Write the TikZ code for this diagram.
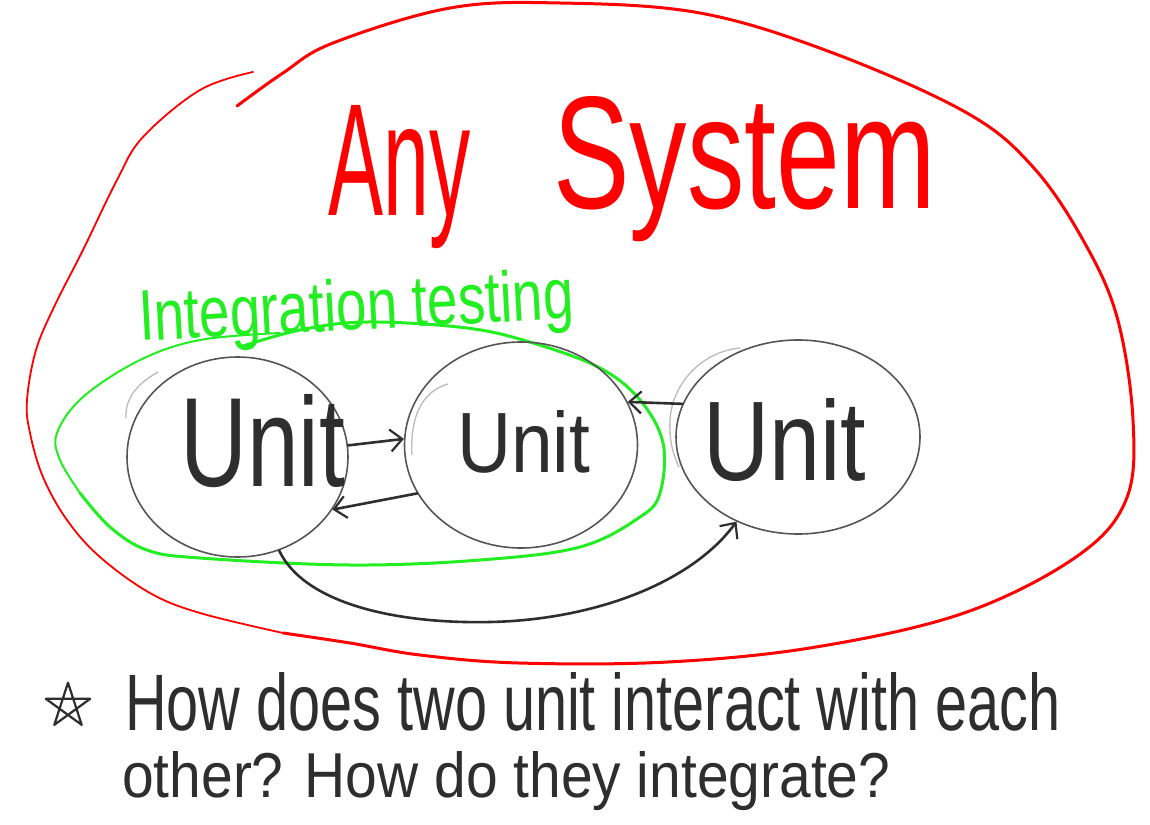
\documentclass[tikz,border=0pt]{standalone}
\usepackage{fontspec}
\setmainfont{Liberation Sans}
\usepackage{graphicx}
\usetikzlibrary{shapes.geometric,arrows.meta}
\definecolor{sysred}{HTML}{FF0000}
\definecolor{intgreen}{HTML}{22EE22}
\definecolor{pen}{HTML}{2E2E2E}
\definecolor{unitgray}{HTML}{555555}
\definecolor{ghost}{HTML}{BBBBBB}
\begin{document}
\begin{tikzpicture}[x=1pt,y=-1pt,
  unit/.style={ellipse, draw=unitgray, line width=1.6pt, inner sep=0pt},
  ghostarc/.style={draw=ghost, line width=1.3pt},
  flow/.style={draw=pen, line width=2.6pt, line cap=round,
    -{Straight Barb[length=12pt,width=22pt,line width=2.2pt]}},
  hand/.style={inner sep=0pt, anchor=base west},
]
\useasboundingbox (0,0) rectangle (1150,824);
\fill[white] (0,0) rectangle (1150,824);

% red system boundary
\draw[sysred, line width=3pt, line cap=round] plot[smooth, tension=0.6] coordinates {(237,106) (283,73) (333,43) (450,8) (560,3) (700,13) (833,53) (967,113) (1033,167) (1083,240) (1117,317) (1133,420) (1126,500) (1076,557) (964,613) (816,647) (668,662) (519,663) (420,655) (350,643) (283,633)};
\draw[sysred, line width=1.8pt, line cap=round] plot[smooth, tension=0.6] coordinates {(283,633) (200,613) (150,593) (100,557) (67,520) (43,477) (30,433) (27,400) (36,350) (55,305) (83,250) (117,180) (143,137) (200,90) (253,72)};

% title
\node[hand, text=sysred] (any) at (328,215) {\resizebox{142pt}{110pt}{Any}};
\node[hand, text=sysred] (system) at (553,208) {\resizebox{382pt}{112pt}{System}};

% green integration boundary
\draw[intgreen, line width=3pt, line cap=round] plot[smooth, tension=0.6] coordinates {(240,347) (300,330) (367,322) (467,328) (533,343) (600,368) (640,400) (663,443) (660,493) (640,517) (580,547) (480,560) (350,565) (200,558) (147,550) (110,527) (80,493)};
\draw[intgreen, line width=2pt, line cap=round] plot[smooth, tension=0.6] coordinates {(80,493) (60,460) (57,433) (83,397) (140,360) (200,340) (280,333)};
\node[hand, text=intgreen, rotate=3] (integ) at (140,341) {\resizebox{435pt}{52pt}{Integration testing}};

% units
\node[unit, minimum width=221pt, minimum height=200pt] (u1) at (237.5,457) {};
\node[unit, minimum width=233pt, minimum height=206pt] (u2) at (521,445) {};
\node[unit, minimum width=244pt, minimum height=194pt] (u3) at (798,437) {};
\draw[ghostarc] (158,372) .. controls (135,385) and (125,400) .. (126,418);
\draw[ghostarc] (448,384) .. controls (420,392) and (410,420) .. (412,455);
\draw[ghostarc] (740,348) .. controls (700,352) and (672,385) .. (670,420) .. controls (669,440) and (673,455) .. (679,467);

\node[hand, text=pen] (t1) at (180,486) {\resizebox{165pt}{92pt}{Unit}};
\node[hand, text=pen] (t2) at (457,472) {\resizebox{133pt}{62pt}{Unit}};
\node[hand, text=pen] (t3) at (703,480) {\resizebox{163pt}{82pt}{Unit}};

% connectors
\draw[flow] (u1.6) -- (u2.177);
\draw[flow] (u2.205) -- (u1.-29);
\draw[flow] (u3.164) -- (u2.22);
\draw[flow] (u1.-66) .. controls (305,605) and (400,624) .. (490,622) .. controls (590,620) and (690,585) .. (u3.234);

% bottom note
\node[star, star points=5, minimum size=46pt, inner sep=0pt] (star) at (68,706) {};
\draw[pen, line width=2.2pt, line join=round] (star.outer point 1) -- (star.outer point 3) -- (star.outer point 5) -- (star.outer point 2) -- (star.outer point 4) -- cycle;
\node[hand, text=pen] (line1) at (125,730) {\resizebox{935pt}{58pt}{How does two unit interact with each}};
\node[hand, text=pen] (line2) at (122,797) {\resizebox{768pt}{46pt}{other? How do they integrate?}};
\end{tikzpicture}
\end{document}
